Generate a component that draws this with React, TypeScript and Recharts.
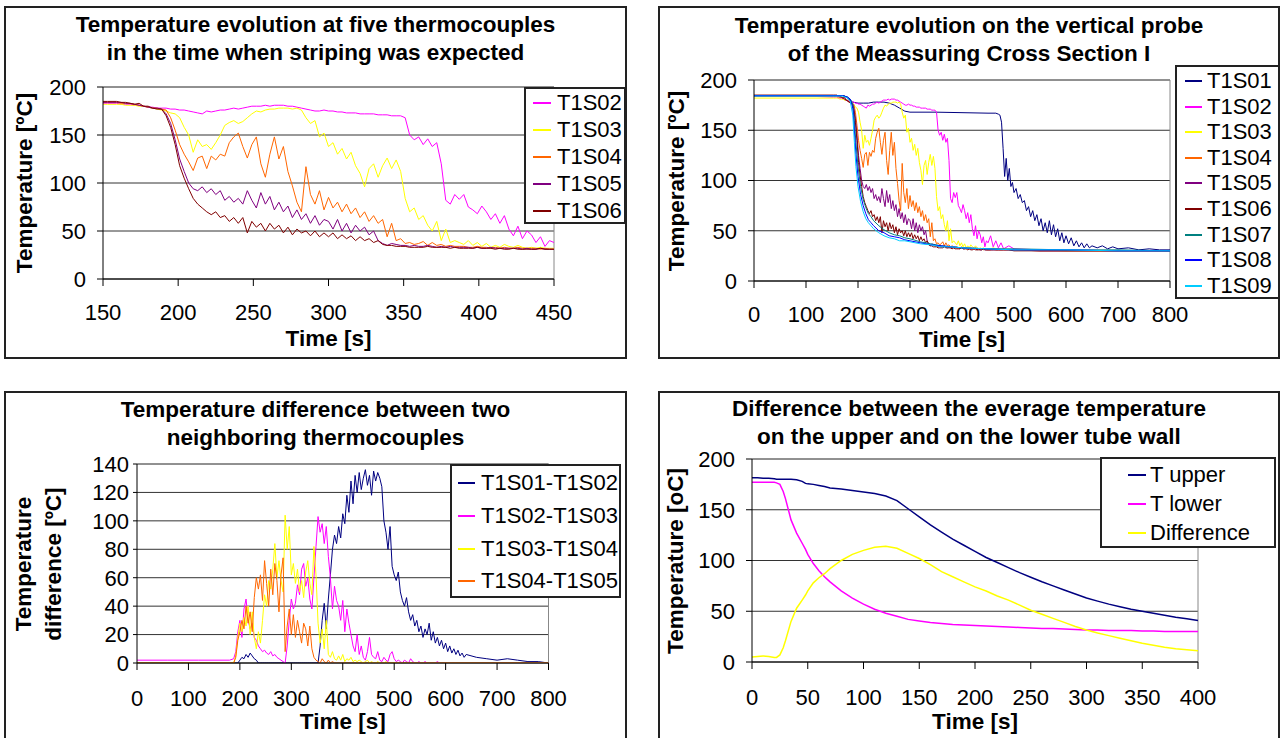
import React from 'react'
import { LineChart, Line, XAxis, YAxis, CartesianGrid, ReferenceLine } from 'recharts'

const FONT = '"Liberation Sans", Arial, Helvetica, sans-serif'

// top left: five thermocouples between 150 and 450 s, read every 3 s
const stripeTime = Array.from({ length: 101 }, (_, i) => 150 + i * 3)
const stripeS02 = [
  183, 183, 183, 183, 182, 182, 182, 181, 181, 180,
  179, 179, 178, 178, 178, 177, 177, 176, 176, 175,
  174, 173, 172, 175, 174, 175, 176, 176, 177, 178,
  177, 178, 179, 180, 180, 180, 181, 180, 181, 181,
  181, 180, 180, 179, 178, 177, 176, 175, 175, 176,
  175, 175, 174, 174, 173, 173, 173, 172, 172, 172,
  172, 171, 171, 171, 170, 170, 170, 168, 150, 145,
  148, 140, 146, 138, 142, 120, 82, 78, 88, 83,
  88, 75, 72, 68, 76, 70, 62, 68, 58, 66,
  52, 45, 55, 42, 50, 46, 38, 44, 34, 40,
  38,
]
const stripeS03 = [
  182, 182, 182, 182, 182, 181, 181, 181, 180, 180,
  179, 178, 177, 176, 175, 173, 172, 168, 158, 150,
  132, 145, 138, 140, 135, 142, 150, 160, 163, 165,
  162, 164, 168, 172, 175, 174, 176, 177, 177, 178,
  178, 178, 177, 178, 176, 168, 162, 165, 148, 152,
  138, 142, 130, 136, 125, 132, 118, 110, 96, 115,
  120, 106, 118, 126, 115, 124, 112, 84, 70, 74,
  62, 66, 56, 50, 60, 40, 52, 38, 40, 38,
  36, 40, 35, 38, 34, 37, 33, 35, 33, 36,
  34, 33, 35, 33, 32, 33, 32, 33, 32, 32,
  32,
]
const stripeS04 = [
  184, 184, 184, 184, 183, 183, 183, 182, 181, 180,
  179, 178, 178, 177, 176, 168, 155, 140, 130, 122,
  113, 126, 128, 115, 128, 124, 130, 128, 142, 148,
  152, 138, 126, 140, 148, 120, 106, 130, 148, 125,
  138, 112, 97, 80, 70, 117, 88, 78, 92, 72,
  85, 74, 80, 70, 78, 68, 74, 64, 70, 60,
  66, 58, 62, 44, 58, 40, 42, 37, 38, 36,
  37, 39, 35, 38, 35, 36, 34, 35, 34, 34,
  34, 33, 33, 34, 33, 33, 32, 33, 32, 33,
  32, 32, 33, 32, 32, 32, 32, 31, 32, 31,
  31,
]
const stripeS05 = [
  184, 184, 184, 184, 184, 183, 183, 182, 181, 180,
  179, 178, 178, 177, 172, 162, 145, 125, 112, 100,
  94, 92, 96, 90, 94, 88, 92, 82, 86, 80,
  84, 78, 92, 82, 74, 90, 78, 86, 72, 80,
  70, 76, 64, 72, 62, 68, 58, 66, 56, 62,
  60, 52, 62, 50, 58, 48, 56, 50, 54, 46,
  50, 40, 37, 35, 37, 36, 35, 35, 34, 35,
  34, 34, 35, 34, 33, 34, 33, 34, 33, 33,
  33, 33, 32, 33, 32, 32, 33, 32, 32, 32,
  32, 32, 32, 31, 32, 31, 31, 32, 31, 31,
  31,
]
const stripeS06 = [
  185, 185, 185, 185, 184, 184, 183, 182, 183, 180,
  180, 178, 177, 177, 170, 158, 140, 118, 105, 94,
  84, 78, 74, 70, 67, 70, 64, 66, 60, 64,
  58, 64, 48, 60, 54, 58, 50, 58, 52, 56,
  48, 54, 46, 52, 48, 50, 45, 50, 44, 48,
  44, 48, 42, 46, 42, 45, 40, 44, 40, 42,
  38, 40, 36, 35, 35, 34, 34, 34, 33, 33,
  33, 33, 34, 33, 33, 33, 33, 32, 33, 32,
  32, 32, 32, 33, 32, 32, 32, 31, 32, 31,
  31, 32, 31, 31, 31, 31, 31, 32, 31, 31,
  31,
]

// top right: the same probe over 0-800 s
const probeHeadTime = [0, 100]
const probeTailTime = [455, 460, 465, 470, 475, 480, 490, 500, 550, 600, 700, 800]
const headS02 = [184, 184]
const headS03 = [182, 182]
const headS04 = [184, 184]
const headS05 = [184, 184]
const headS06 = [185, 185]
const tailS02 = [45, 34, 40, 33, 38, 32, 35, 32, 31, 31, 30, 30]
const tailS03 = [32, 33, 32, 32, 31, 32, 31, 31, 31, 30, 30, 30]
const tailS04 = [31, 32, 31, 31, 31, 31, 31, 31, 30, 30, 30, 30]
const tailS05 = [31, 31, 31, 31, 31, 31, 31, 31, 30, 30, 30, 30]
const tailS06 = [31, 31, 31, 31, 31, 31, 31, 30, 30, 30, 30, 30]

const s01Time = [
  0, 100, 170, 175, 180, 185, 190,
  200, 210, 220, 230, 240, 250, 260, 270, 280, 290, 300,
  350, 400, 450, 465, 470, 473,
  476, 479, 482, 485, 488, 491, 494, 497, 500,
  504, 508, 512, 516, 520, 524, 528, 532, 536, 540, 544, 548, 552,
  556, 560, 564, 568, 572, 576, 580, 584, 588, 592, 596, 600,
  605, 610, 615, 620, 625, 630, 635, 640, 645, 650,
  660, 670, 680, 690, 700, 720, 740, 760, 780, 800,
]
const s01Temp = [
  184.5, 184.5, 184.5, 184, 182, 180, 178,
  177, 177, 177, 178, 178, 178, 177, 175, 172, 169, 168,
  168, 167.5, 167, 167, 166, 165,
  158, 132, 104, 122, 100, 112, 94, 98, 88,
  92, 82, 86, 78, 80, 70, 74, 64, 70, 60, 66, 55, 62,
  50, 58, 48, 60, 46, 56, 44, 52, 40, 48, 38, 45,
  37, 43, 35, 40, 34, 38, 33, 37, 33, 35,
  33, 35, 32, 34, 32, 33, 31, 32, 31, 31,
]

const fastTime = [
  0, 100, 170, 180, 185, 190, 193, 196,
  200, 205, 210, 215, 220, 225, 230,
  240, 250, 260, 270, 280, 290, 300,
  320, 340, 360, 380, 400,
  450, 500, 600, 700, 800,
]
const fastS07 = [
  184.5, 184.5, 184.5, 183, 181, 176, 160, 138,
  114, 94, 81, 73, 67, 64, 60,
  55, 51, 48, 46, 45, 43, 42,
  39, 37, 35, 34, 33,
  32, 32, 31, 31, 30,
]
const fastS08 = [
  184.5, 184.5, 184.5, 183, 181, 172, 150, 126,
  104, 86, 75, 67, 61, 58, 55,
  50, 48, 45, 44, 43, 41, 40,
  38, 36, 35, 34, 33,
  32, 31, 31, 30, 30,
]
const fastS09 = [
  184, 184, 184, 182, 179, 165, 138, 114,
  94, 79, 69, 62, 58, 55, 52,
  48, 45, 43, 42, 40, 40, 39,
  37, 36, 34, 34, 33,
  32, 31, 31, 30, 30,
]

// bottom left: differences of neighbouring thermocouples
const diffTime = [
  0, 60, 120, 180, 188,
  ...Array.from({ length: 113 }, (_, i) => 192 + i * 4),
  660, 680, 700, 720, 740, 760, 780, 800,
]
const diffS01S02 = [
  0, 0, 0, 0, 0,
  0, 0, 2, 4, 3, 6, 4, 7, 5, 3,
  2, 0, 0, 0, 0, 0, 0, 0, 0, 0,
  0, 0, 0, 0, 0, 0, 0, 0, 0, 0,
  0, 0, 0, 0, 0, 0, 0, 0, 0, 0,
  0, 12, 30, 42, 24, 45, 62, 80, 90, 84,
  96, 88, 105, 98, 118, 106, 128, 112, 132, 120,
  134, 122, 130, 136, 125, 132, 118, 135, 128, 134,
  130, 124, 100, 92, 80, 96, 68, 62, 58, 64,
  50, 44, 40, 46, 36, 30, 34, 26, 30, 22,
  26, 18, 24, 20, 28, 16, 22, 14, 18, 12,
  16, 10, 14, 8, 12, 7, 10, 6, 9, 5,
  7, 4, 6,
  4, 3, 2, 3, 2, 1, 1, 0,
]
const diffS02S03 = [
  2, 2, 2, 2, 3,
  8, 22, 30, 18, 38, 45, 30, 24, 28, 18,
  16, 12, 10, 8, 9, 7, 6, 8, 5, 6,
  4, 3, 2, 1, 0, 12, 30, 45, 38, 42,
  55, 48, 66, 70, 54, 60, 45, 38, 60, 82,
  103, 92, 98, 84, 96, 75, 60, 38, 54, 44,
  40, 30, 44, 22, 38, 28, 20, 12, 8, 20,
  6, 12, 4, 2, 8, 18, 6, 4, 3, 8,
  2, 1, 4, 2, 1, 6, 8, 3, 1, 2,
  1, 0, 2, 1, 0, 3, 1, 0, 0, 1,
  0, 0, 1, 0, 0, 0, 0, 0, 1, 0,
  0, 0, 0, 0, 0, 0, 0, 0, 0, 0,
  0, 0, 0,
  0, 0, 0, 0, 0, 0, 0, 0,
]
const diffS03S04 = [
  0, 0, 0, 0, 0,
  5, 18, 28, 22, 32, 26, 40, 20, 36, 18,
  10, 22, 14, 30, 48, 40, 58, 52, 66, 84,
  60, 72, 58, 50, 104, 80, 96, 62, 70, 56,
  66, 50, 58, 46, 64, 72, 56, 48, 82, 62,
  28, 14, 24, 10, 30, 6, 4, 8, 3, 2,
  5, 2, 6, 1, 3, 2, 4, 1, 2, 1,
  2, 1, 0, 1, 2, 0, 1, 0, 0, 1,
  0, 0, 0, 1, 0, 0, 0, 0, 0, 0,
  0, 0, 0, 0, 0, 0, 0, 0, 0, 0,
  0, 0, 0, 0, 0, 0, 0, 0, 0, 0,
  0, 0, 0, 0, 0, 0, 0, 0, 0, 0,
  0, 0, 0,
  0, 0, 0, 0, 0, 0, 0, 0,
]
const diffS04S05 = [
  0, 0, 0, 0, 0,
  4, 16, 22, 30, 24, 40, 28, 36, 22, 46,
  60, 52, 62, 44, 72, 56, 40, 66, 48, 70,
  58, 36, 62, 74, 8, 26, 38, 20, 34, 18,
  30, 22, 14, 28, 24, 12, 26, 10, 4, 2,
  1, 0, 3, 1, 0, 2, 0, 1, 0, 0,
  0, 0, 0, 0, 0, 0, 0, 0, 0, 0,
  0, 0, 0, 0, 0, 0, 0, 0, 0, 0,
  0, 0, 0, 0, 0, 0, 0, 0, 0, 0,
  0, 0, 0, 0, 0, 0, 0, 0, 0, 0,
  0, 0, 0, 0, 0, 0, 0, 0, 0, 0,
  0, 0, 0, 0, 0, 0, 0, 0, 0, 0,
  0, 0, 0,
  0, 0, 0, 0, 0, 0, 0, 0,
]

// bottom right: averaged upper / lower wall
const wallTime = [
  0, 5, 10, 15, 20, 22, 25, 28, 30, 35, 40, 45, 48, 50, 55, 60, 65,
  70, 80, 90, 100, 110, 120, 130, 140, 150, 160, 170, 180, 190, 200, 210, 220,
  230, 240, 250, 260, 270, 280, 290, 300, 310, 320, 330, 340, 350, 360, 370, 380, 390, 400,
]
const wallUpper = [
  181.5, 181.5, 181, 181, 180.5, 180, 180, 180, 180, 180, 179.5, 178, 176, 175.5, 175, 174, 173,
  171.5, 170.5, 169, 167.5, 166, 163.5, 159, 151, 143, 135, 128, 121, 115, 109, 103, 98,
  93, 88, 83.5, 79, 75, 71, 67, 63, 60, 57, 54.5, 52, 50, 48, 46, 44, 42.5, 41,
]
const wallLower = [
  177, 177, 177, 177, 177, 176.5, 175, 168, 161, 140, 127, 117, 111, 106, 97, 90, 84,
  79, 70, 63, 57, 52, 48, 45, 42, 40.5, 39, 38, 37, 36.5, 36, 35.5, 35,
  34.5, 34, 33.5, 33, 33, 32.5, 32, 31.5, 31.5, 31, 31, 31, 30.5, 30.5, 30, 30, 30, 30,
]
const wallDiff = [
  5, 5.5, 6, 5.5, 4.5, 4.5, 7, 14, 21, 40, 53, 61, 66, 70, 78, 83, 87,
  92, 100, 106, 110, 113, 114, 112, 107, 102, 96, 89, 84, 79, 74, 70, 65,
  61, 56, 51, 47, 43, 39, 35, 31.5, 28.5, 26, 23.5, 21, 18.5, 16.5, 14.5, 13, 12, 11,
]

type Pt = { t: number; v: number }
const zip = (ts: number[], vs: number[]): Pt[] => ts.map((t, i) => ({ t, v: vs[i] }))

const COLORS = {
  s01: '#000080',
  s02: '#FF00FF',
  s03: '#FFFF00',
  s04: '#FF6600',
  s05: '#800080',
  s06: '#800000',
  s07: '#008080',
  s08: '#0000FF',
  s09: '#00CCFF',
}

interface Series {
  name: string
  color: string
  data: Pt[]
}

interface LegendBox {
  left: number
  top: number
  right: number
  bottom: number
  first: number
  gap: number
  lineX: number
  lineW: number
  textX: number
}

interface PanelSpec {
  box: number[]
  plot: number[]
  title: string[]
  titleTop: number
  xTitleTop: number
  yTitle: string[]
  yTitleX: number[]
  yTitleY: number
  xDomain: number[]
  xTicks: number[]
  yDomain: number[]
  yTicks: number[]
  series: Series[]
  legend: LegendBox
  lineWidth: number
  yTickSize: number
  yTickMargin: number
  xTickMargin: number
}

const tickStyle = { fill: '#000', fontSize: 22, fontFamily: FONT }
const textBase = { position: 'absolute' as const, fontFamily: FONT, fontSize: 22, lineHeight: '28px', color: '#000', whiteSpace: 'nowrap' as const }
const boldText = { ...textBase, fontSize: 22.5, fontWeight: 'bold' as const }

function Panel({ spec }: { spec: PanelSpec }) {
  const [bl, bt, br, bb] = spec.box
  const [pl, pt, pr, pb] = spec.plot
  const w = br - bl
  const h = bb - bt
  const xAxisH = 40
  const lg = spec.legend
  return (
    <>
      <div style={{ position: 'absolute', left: bl, top: bt, width: w, height: h }}>
        <LineChart
          width={w}
          height={h}
          margin={{ top: pt - bt, right: br - pr, bottom: bb - pb - xAxisH, left: 0 }}
        >
          <CartesianGrid vertical={false} stroke="#333" />
          <XAxis
            type="number"
            dataKey="t"
            domain={spec.xDomain}
            ticks={spec.xTicks}
            interval={0}
            allowDataOverflow
            height={xAxisH}
            tickSize={7}
            tickMargin={spec.xTickMargin}
            axisLine={{ stroke: '#000' }}
            tickLine={{ stroke: '#000' }}
            tick={tickStyle}
          />
          <YAxis
            type="number"
            domain={spec.yDomain}
            ticks={spec.yTicks}
            interval={0}
            allowDataOverflow
            width={pl - bl}
            tickSize={spec.yTickSize}
            tickMargin={spec.yTickMargin}
            axisLine={{ stroke: '#000' }}
            tickLine={{ stroke: '#000' }}
            tick={tickStyle}
          />
          <ReferenceLine y={spec.yDomain[1]} stroke="#888" />
          <ReferenceLine x={spec.xDomain[1]} stroke="#888" />
          {spec.series.map((s) => (
            <Line
              key={s.name}
              data={s.data}
              dataKey="v"
              name={s.name}
              type="linear"
              stroke={s.color}
              strokeWidth={spec.lineWidth}
              dot={false}
              isAnimationActive={false}
            />
          ))}
        </LineChart>
      </div>
      <div
        style={{
          position: 'absolute',
          left: bl,
          top: bt,
          width: w,
          height: h,
          border: '2px solid #222',
          boxSizing: 'border-box',
          pointerEvents: 'none',
        }}
      />
      <div style={{ ...boldText, left: bl, top: spec.titleTop, width: w, textAlign: 'center' }}>
        {spec.title.map((line) => (
          <div key={line}>{line}</div>
        ))}
      </div>
      <div style={{ ...boldText, left: pl, top: spec.xTitleTop, width: pr - pl, textAlign: 'center' }}>
        Time [s]
      </div>
      {spec.yTitle.map((line, i) => (
        <div
          key={line}
          style={{
            ...boldText,
            left: spec.yTitleX[i] - 150,
            top: spec.yTitleY - 14,
            width: 300,
            height: 28,
            textAlign: 'center',
            transform: 'rotate(-90deg)',
          }}
        >
          {line}
        </div>
      ))}
      <div
        style={{
          position: 'absolute',
          left: lg.left,
          top: lg.top,
          width: lg.right - lg.left,
          height: lg.bottom - lg.top,
          border: '2px solid #222',
          boxSizing: 'border-box',
          background: '#fff',
        }}
      />
      {spec.series.map((s, i) => {
        const y = lg.first + i * lg.gap
        return (
          <React.Fragment key={s.name}>
            <div style={{ position: 'absolute', left: lg.lineX, top: y - 1, width: lg.lineW, height: 2, background: s.color }} />
            <div style={{ ...textBase, left: lg.textX, top: y - 14 }}>{s.name}</div>
          </React.Fragment>
        )
      })}
    </>
  )
}

const probe = (head: number[], mid: number[], tail: number[]) =>
  zip([...probeHeadTime, ...stripeTime, ...probeTailTime], [...head, ...mid, ...tail])

const panels: PanelSpec[] = [
  {
    box: [4, 6, 627, 359],
    plot: [103, 87, 554, 279],
    title: ['Temperature evolution at five thermocouples', 'in the time when striping was expected'],
    titleTop: 11,
    xTitleTop: 325,
    yTitle: ['Temperature [ºC]'],
    yTitleX: [24.5],
    yTitleY: 183,
    xDomain: [150, 450],
    xTicks: [150, 200, 250, 300, 350, 400, 450],
    yDomain: [0, 200],
    yTicks: [0, 50, 100, 150, 200],
    series: [
      { name: 'T1S02', color: COLORS.s02, data: zip(stripeTime, stripeS02) },
      { name: 'T1S03', color: COLORS.s03, data: zip(stripeTime, stripeS03) },
      { name: 'T1S04', color: COLORS.s04, data: zip(stripeTime, stripeS04) },
      { name: 'T1S05', color: COLORS.s05, data: zip(stripeTime, stripeS05) },
      { name: 'T1S06', color: COLORS.s06, data: zip(stripeTime, stripeS06) },
    ],
    legend: { left: 524, top: 87, right: 626, bottom: 224, first: 103.3, gap: 26.8, lineX: 533, lineW: 18, textX: 557 },
    lineWidth: 1,
    yTickSize: 6,
    yTickMargin: 11,
    xTickMargin: 18,
  },
  {
    box: [658, 6, 1280, 359],
    plot: [754, 80, 1170, 281],
    title: ['Temperature evolution on the vertical probe', 'of the Meassuring Cross Section I'],
    titleTop: 11.5,
    xTitleTop: 326,
    yTitle: ['Temperature [ºC]'],
    yTitleX: [677],
    yTitleY: 181,
    xDomain: [0, 800],
    xTicks: [0, 100, 200, 300, 400, 500, 600, 700, 800],
    yDomain: [0, 200],
    yTicks: [0, 50, 100, 150, 200],
    series: [
      { name: 'T1S01', color: COLORS.s01, data: zip(s01Time, s01Temp) },
      { name: 'T1S02', color: COLORS.s02, data: probe(headS02, stripeS02, tailS02) },
      { name: 'T1S03', color: COLORS.s03, data: probe(headS03, stripeS03, tailS03) },
      { name: 'T1S04', color: COLORS.s04, data: probe(headS04, stripeS04, tailS04) },
      { name: 'T1S05', color: COLORS.s05, data: probe(headS05, stripeS05, tailS05) },
      { name: 'T1S06', color: COLORS.s06, data: probe(headS06, stripeS06, tailS06) },
      { name: 'T1S07', color: COLORS.s07, data: zip(fastTime, fastS07) },
      { name: 'T1S08', color: COLORS.s08, data: zip(fastTime, fastS08) },
      { name: 'T1S09', color: COLORS.s09, data: zip(fastTime, fastS09) },
    ],
    legend: { left: 1175, top: 65, right: 1280, bottom: 299, first: 81, gap: 25.6, lineX: 1185, lineW: 17, textX: 1207 },
    lineWidth: 1,
    yTickSize: 6,
    yTickMargin: 11,
    xTickMargin: 18,
  },
  {
    box: [4, 391, 627, 741],
    plot: [137, 464, 548.5, 663],
    title: ['Temperature difference between two', 'neighboring thermocouples'],
    titleTop: 396,
    xTitleTop: 708,
    yTitle: ['Temperature', 'difference [ºC]'],
    yTitleX: [24, 53.5],
    yTitleY: 564,
    xDomain: [0, 800],
    xTicks: [0, 100, 200, 300, 400, 500, 600, 700, 800],
    yDomain: [0, 140],
    yTicks: [0, 20, 40, 60, 80, 100, 120, 140],
    series: [
      { name: 'T1S01-T1S02', color: COLORS.s01, data: zip(diffTime, diffS01S02) },
      { name: 'T1S02-T1S03', color: COLORS.s02, data: zip(diffTime, diffS02S03) },
      { name: 'T1S03-T1S04', color: COLORS.s03, data: zip(diffTime, diffS03S04) },
      { name: 'T1S04-T1S05', color: COLORS.s04, data: zip(diffTime, diffS04S05) },
    ],
    legend: { left: 450, top: 464, right: 621, bottom: 598, first: 483.3, gap: 32.6, lineX: 458, lineW: 17, textX: 481 },
    lineWidth: 1,
    yTickSize: 4,
    yTickMargin: 4,
    xTickMargin: 20,
  },
  {
    box: [658, 391, 1280, 741],
    plot: [752, 459, 1198, 662],
    title: ['Difference between the everage temperature', 'on the upper and on the lower tube wall'],
    titleTop: 395,
    xTitleTop: 708,
    yTitle: ['Temperature [oC]'],
    yTitleX: [676],
    yTitleY: 560.5,
    xDomain: [0, 400],
    xTicks: [0, 50, 100, 150, 200, 250, 300, 350, 400],
    yDomain: [0, 200],
    yTicks: [0, 50, 100, 150, 200],
    series: [
      { name: 'T upper', color: COLORS.s01, data: zip(wallTime, wallUpper) },
      { name: 'T lower', color: COLORS.s02, data: zip(wallTime, wallLower) },
      { name: 'Difference', color: COLORS.s03, data: zip(wallTime, wallDiff) },
    ],
    legend: { left: 1100, top: 457, right: 1276, bottom: 548, first: 475, gap: 28.8, lineX: 1128, lineW: 18, textX: 1150 },
    lineWidth: 1.5,
    yTickSize: 6,
    yTickMargin: 11,
    xTickMargin: 20,
  },
]

export default function App() {
  return (
    <div
      style={{
        position: 'absolute',
        left: 0,
        top: 0,
        width: 1280,
        height: 738,
        overflow: 'hidden',
        background: '#fff',
        fontFamily: FONT,
      }}
    >
      {panels.map((p) => (
        <Panel key={p.title[0]} spec={p} />
      ))}
    </div>
  )
}
